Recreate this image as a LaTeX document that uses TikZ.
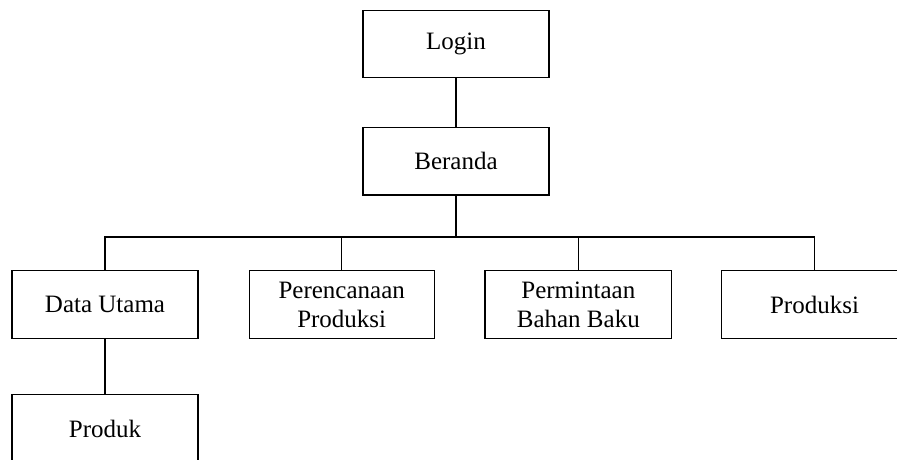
\documentclass[tikz,border=0pt]{standalone}
\usepackage{fontspec}
\setmainfont{Liberation Serif}
\begin{document}
\begin{tikzpicture}[x=1pt,y=-1pt,
  box/.style={draw, line width=1.2pt, minimum width=186pt, minimum height=67.5pt,
    inner sep=0pt, align=center, font=\fontsize{25}{29}\selectfont},
  link/.style={line width=1.2pt}]
\useasboundingbox (0,0) rectangle (897,460);
\clip (0,0) rectangle (897,460);
\node[box] (login) at (456,44) {Login};
\node[box] (beranda) at (456,161.3) {Beranda};
\node[box] (data) at (105,304.5) {Data Utama};
\node[box, minimum width=185pt] (renc) at (341.7,304.5) {Perencanaan\\Produksi};
\node[box, minimum width=186.7pt] (minta) at (578.3,304.5) {Permintaan\\Bahan Baku};
\node[box] (prod) at (814.5,304.5) {Produksi};
\node[box, minimum height=68pt] (produk) at (105,428.5) {Produk};
\coordinate (bus) at (456,237);
\draw[link] (login.south) -- (beranda.north);
\draw[line width=1.8pt] (beranda.south) -- (bus);
\draw[link] (data.north) |- (bus) -| (prod.north);
\draw[link] (renc.north) -- (renc.north |- bus);
\draw[link] (minta.north) -- (minta.north |- bus);
\draw[link] (data.south) -- (produk.north);
\end{tikzpicture}
\end{document}
